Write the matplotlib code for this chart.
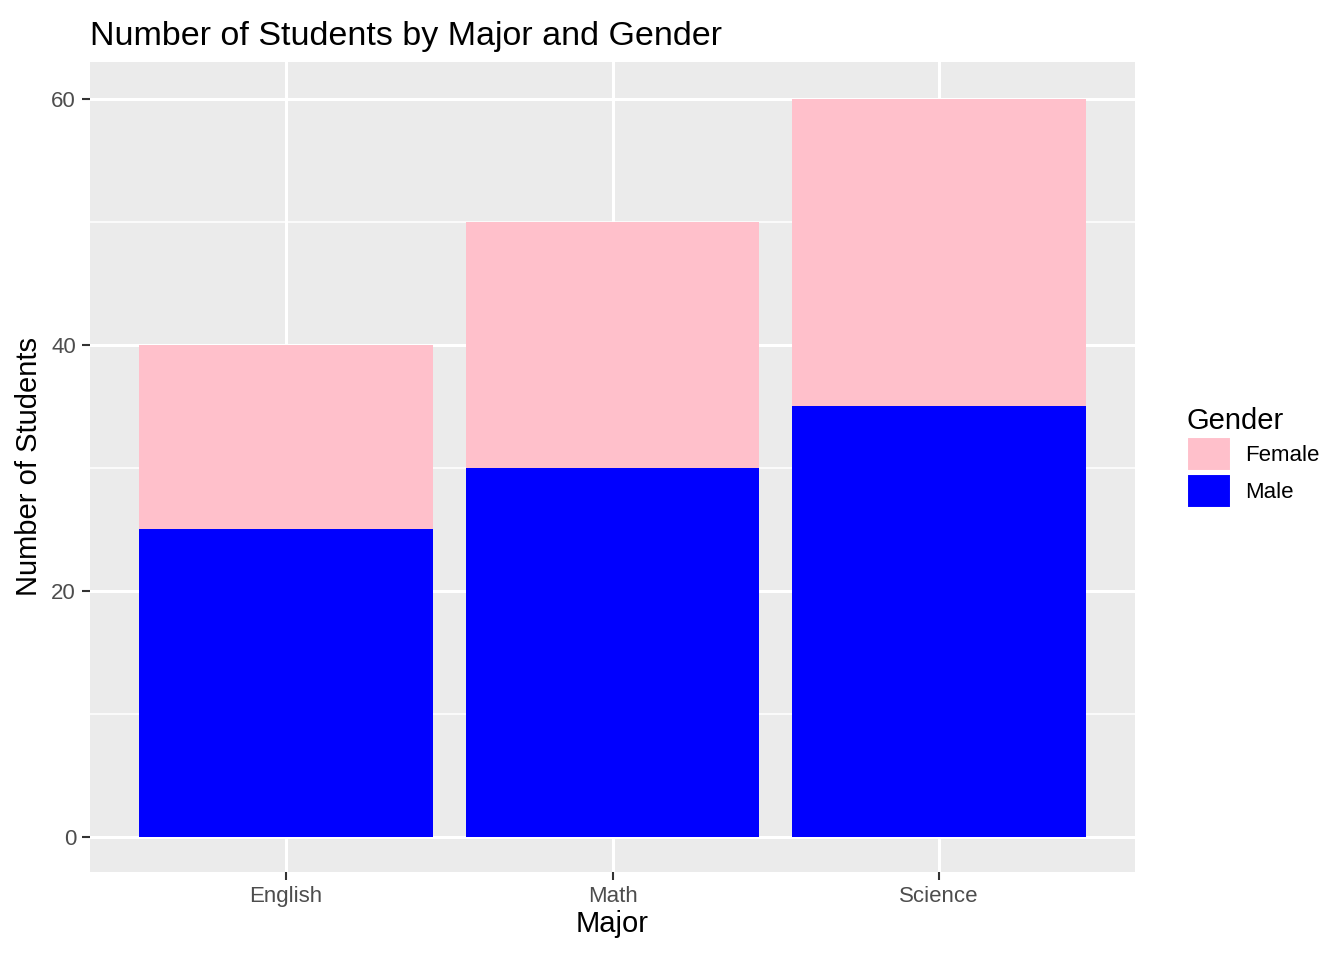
import matplotlib
matplotlib.use('Agg')
from matplotlib import pyplot as plt
from matplotlib.patches import Patch

majors = ['English', 'Math', 'Science']
male = [25, 30, 35]
female = [15, 20, 25]

plt.rcParams['font.family'] = ['Liberation Sans', 'DejaVu Sans']


def main():
    fig = plt.figure(figsize=(13.44, 9.6), dpi=100)
    ax = fig.add_axes([90/1344, 88/960, 1045/1344, 810/960])
    ax.set_facecolor('#EBEBEB')
    x = list(range(1, len(majors) + 1))
    ax.bar(x, male, width=0.9, color='blue', zorder=3)
    ax.bar(x, female, width=0.9, bottom=male, color='pink', zorder=3)

    ax.set_xlim(0.4, 3.6)
    ax.set_ylim(-2.85, 63.0)
    ax.set_xticks(x)
    ax.set_xticklabels(majors)
    ax.set_yticks([0, 20, 40, 60])
    ax.set_yticks([10, 30, 50], minor=True)
    ax.grid(which='major', color='white', linewidth=2.2, zorder=0)
    ax.grid(which='minor', axis='y', color='white', linewidth=1.1, zorder=0)
    ax.set_axisbelow(True)
    for s in ax.spines.values():
        s.set_visible(False)
    ax.tick_params(which='major', length=6, width=1.5, color='#333333',
                   labelsize=16, labelcolor='#4D4D4D', pad=4)
    ax.tick_params(which='minor', length=0)

    ax.set_title('Number of Students by Major and Gender', loc='left',
                 fontsize=24.5, pad=12, x=0)
    ax.set_xlabel('Major', fontsize=21, labelpad=2)
    ax.set_ylabel('Number of Students', fontsize=21, labelpad=6)

    handles = [Patch(facecolor='pink', edgecolor='white', linewidth=1.5),
               Patch(facecolor='blue', edgecolor='white', linewidth=1.5)]
    leg = fig.legend(handles, ['Female', 'Male'], title='Gender',
                     loc='upper left', bbox_to_anchor=(1178/1344, 1 - 398/960),
                     frameon=False, fontsize=16, title_fontsize=21,
                     handlelength=2.0, handleheight=2.0, handletextpad=0.6,
                     labelspacing=0.1, borderaxespad=0)
    leg._legend_box.align = 'left'

    plt.savefig('out.png', dpi=100)


if __name__ == '__main__':
    main()
